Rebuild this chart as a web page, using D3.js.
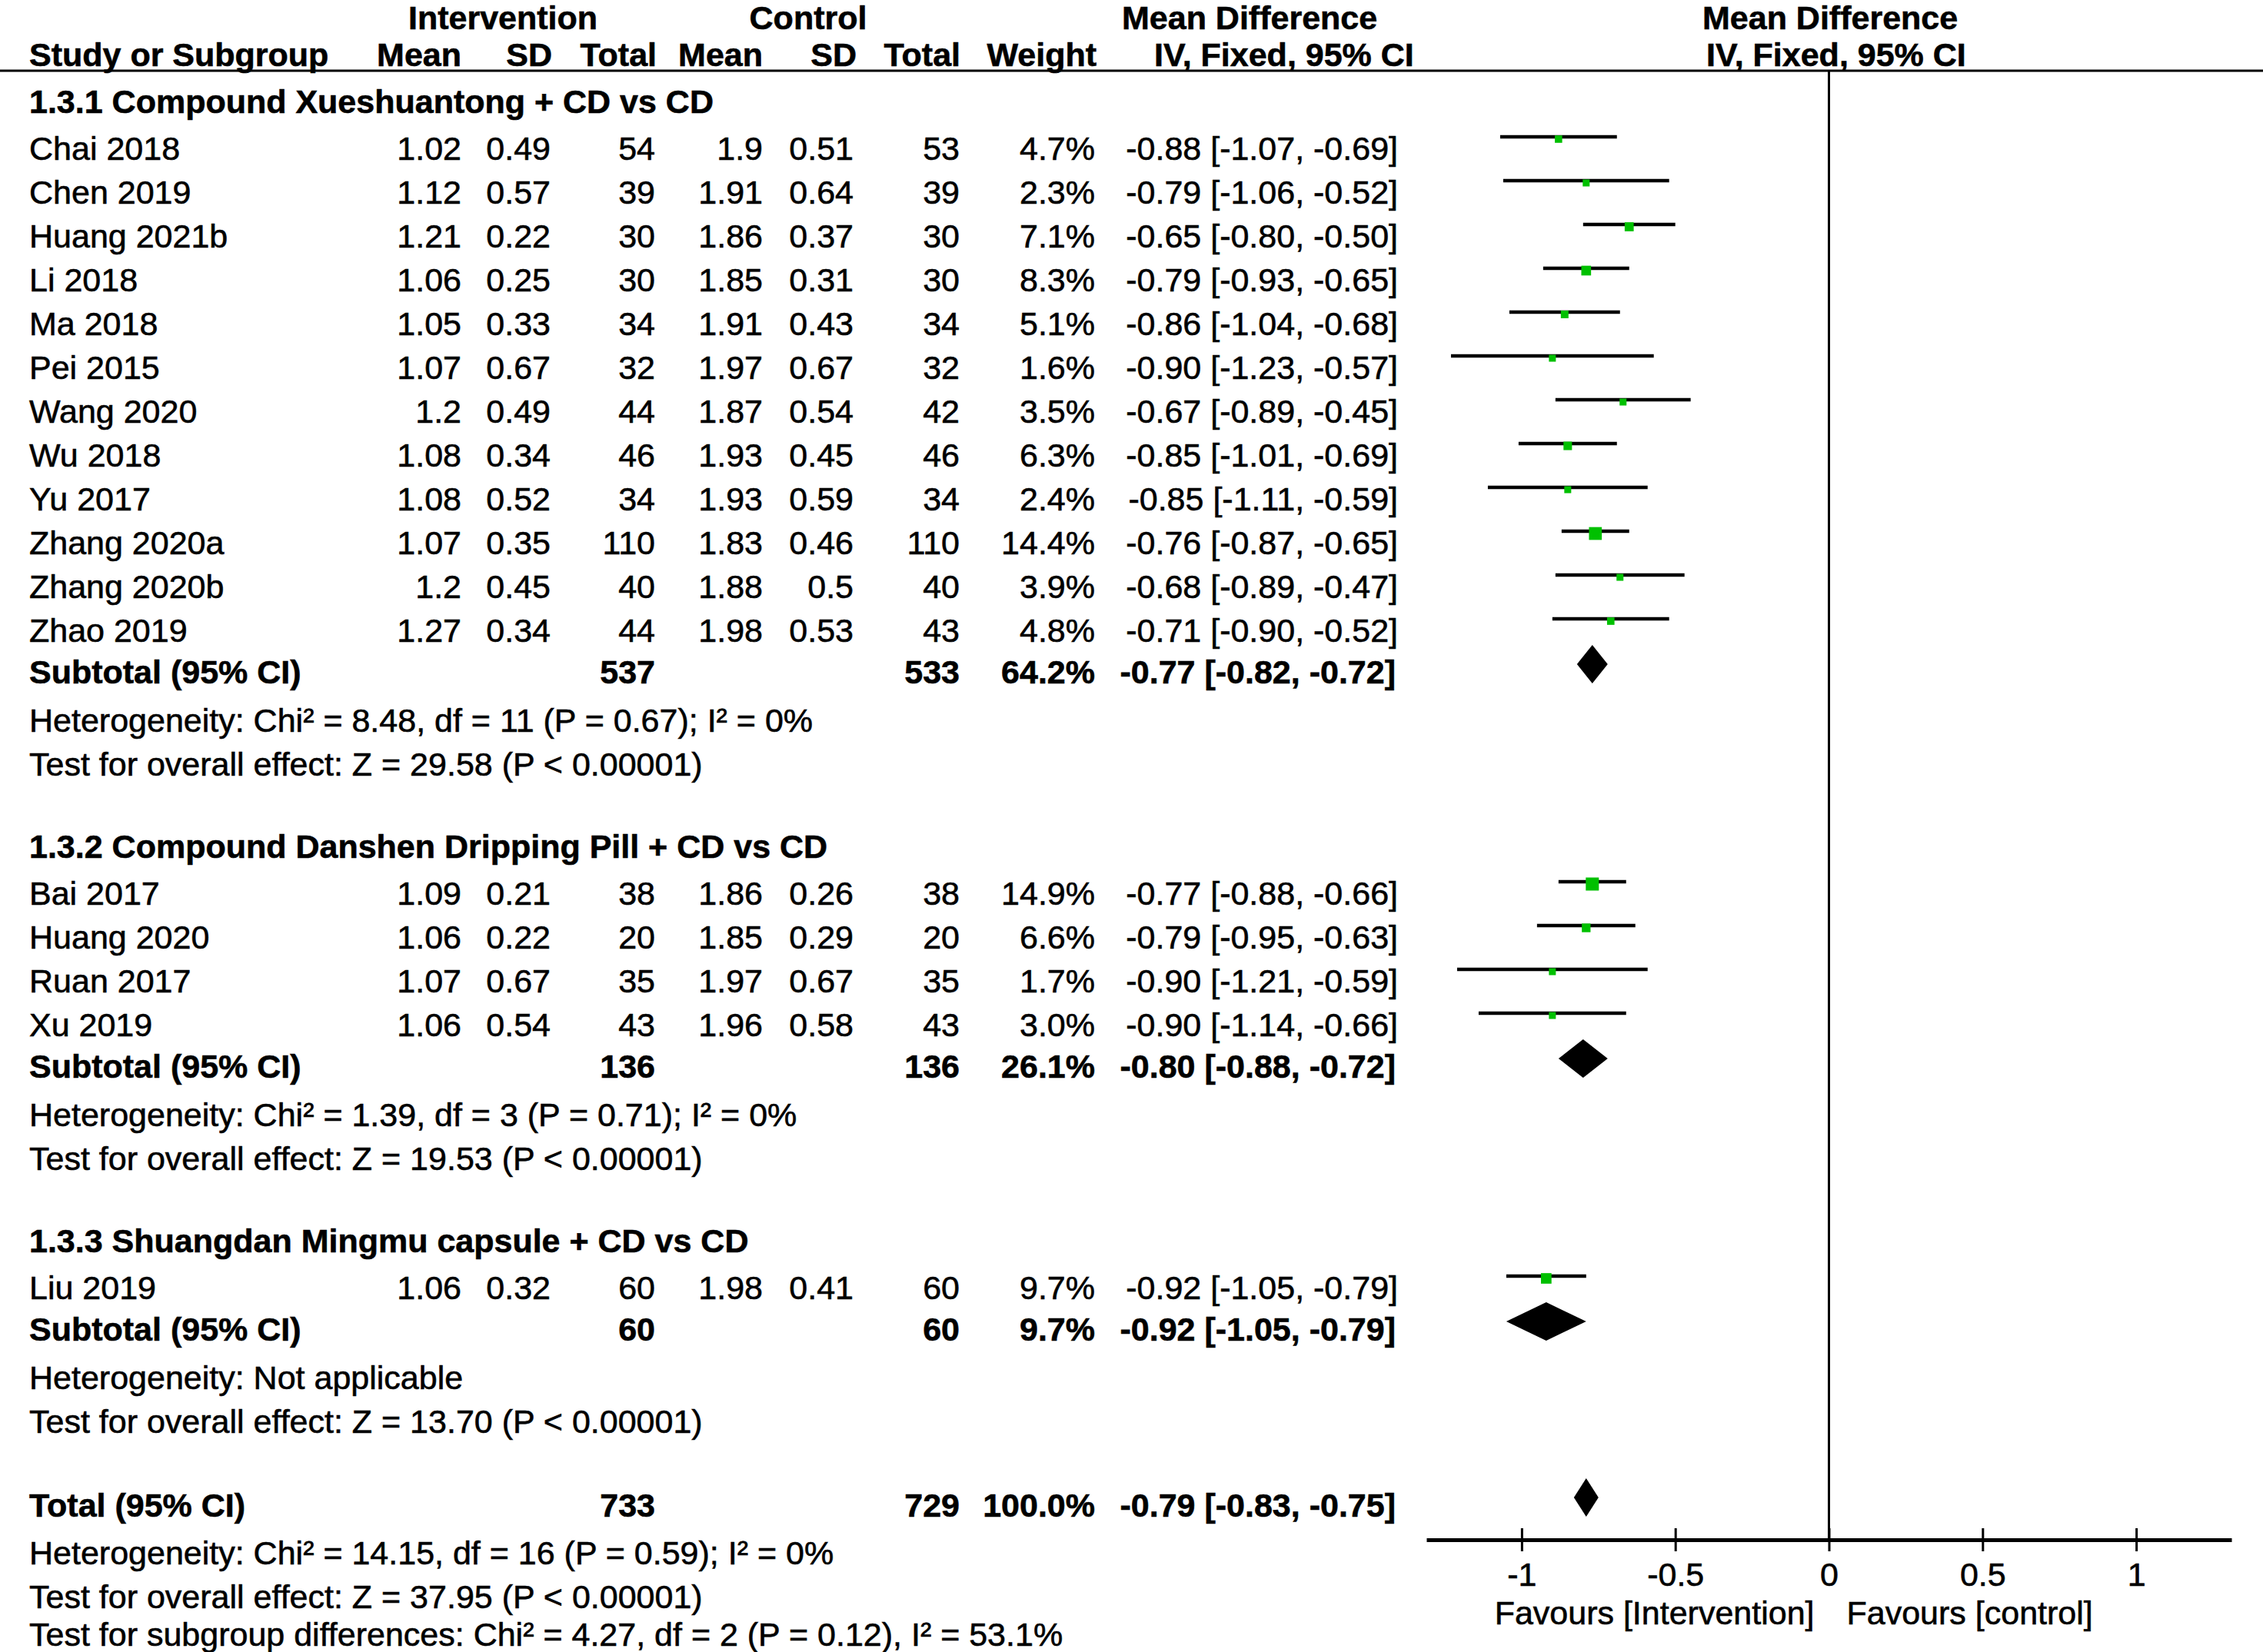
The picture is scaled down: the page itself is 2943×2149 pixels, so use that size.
<!DOCTYPE html>
<html lang="en">
	<head>
		<meta charset="utf-8">
		<title>Forest plot</title>
		<script type="text/javascript" src="https://cdn.jsdelivr.net/npm/d3@7"></script>
    <style>
      body{ margin: 0; background: white; }
      svg text{
        font-family: "Liberation Sans", Arial, sans-serif;
        font-size: 43px;
        fill: black;
        stroke: black;
        stroke-width: 0.6px;
      }
      .bold{ font-weight: bold; }
      g.ci line{ stroke: black; stroke-width: 4.5; }
      g.ci rect{ fill: #00c000; }
      g.diamonds path{ fill: black; }
    </style>
	</head>
	<body>
    <script type="text/javascript">

      // study level data
      const studies = ["Chai 2018", "Chen 2019", "Huang 2021b", "Li 2018", "Ma 2018", "Pei 2015",
        "Wang 2020", "Wu 2018", "Yu 2017", "Zhang 2020a", "Zhang 2020b", "Zhao 2019",
        "Bai 2017", "Huang 2020", "Ruan 2017", "Xu 2019", "Liu 2019"];
      const studyGroup = [0,0,0,0,0,0,0,0,0,0,0,0, 1,1,1,1, 2];
      const intMean = [1.02, 1.12, 1.21, 1.06, 1.05, 1.07, 1.2, 1.08, 1.08, 1.07, 1.2, 1.27, 1.09, 1.06, 1.07, 1.06, 1.06];
      const intSD = [0.49, 0.57, 0.22, 0.25, 0.33, 0.67, 0.49, 0.34, 0.52, 0.35, 0.45, 0.34, 0.21, 0.22, 0.67, 0.54, 0.32];
      const intN = [54, 39, 30, 30, 34, 32, 44, 46, 34, 110, 40, 44, 38, 20, 35, 43, 60];
      const ctrlMean = [1.9, 1.91, 1.86, 1.85, 1.91, 1.97, 1.87, 1.93, 1.93, 1.83, 1.88, 1.98, 1.86, 1.85, 1.97, 1.96, 1.98];
      const ctrlSD = [0.51, 0.64, 0.37, 0.31, 0.43, 0.67, 0.54, 0.45, 0.59, 0.46, 0.5, 0.53, 0.26, 0.29, 0.67, 0.58, 0.41];
      const ctrlN = [53, 39, 30, 30, 34, 32, 42, 46, 34, 110, 40, 43, 38, 20, 35, 43, 60];
      const weight = [4.7, 2.3, 7.1, 8.3, 5.1, 1.6, 3.5, 6.3, 2.4, 14.4, 3.9, 4.8, 14.9, 6.6, 1.7, 3.0, 9.7];
      const md = [-0.88, -0.79, -0.65, -0.79, -0.86, -0.90, -0.67, -0.85, -0.85, -0.76, -0.68, -0.71, -0.77, -0.79, -0.90, -0.90, -0.92];
      const ciLow = [-1.07, -1.06, -0.80, -0.93, -1.04, -1.23, -0.89, -1.01, -1.11, -0.87, -0.89, -0.90, -0.88, -0.95, -1.21, -1.14, -1.05];
      const ciHigh = [-0.69, -0.52, -0.50, -0.65, -0.68, -0.57, -0.45, -0.69, -0.59, -0.65, -0.47, -0.52, -0.66, -0.63, -0.59, -0.66, -0.79];

      // subgroup data
      const groupTitles = ["1.3.1 Compound Xueshuantong + CD vs CD",
        "1.3.2 Compound Danshen Dripping Pill + CD vs CD",
        "1.3.3 Shuangdan Mingmu capsule + CD vs CD"];
      const groupIntN = [537, 136, 60];
      const groupCtrlN = [533, 136, 60];
      const groupWeight = [64.2, 26.1, 9.7];
      const groupMd = [-0.77, -0.80, -0.92];
      const groupLow = [-0.82, -0.88, -1.05];
      const groupHigh = [-0.72, -0.72, -0.79];
      const groupHet = ["Heterogeneity: Chi² = 8.48, df = 11 (P = 0.67); I² = 0%",
        "Heterogeneity: Chi² = 1.39, df = 3 (P = 0.71); I² = 0%",
        "Heterogeneity: Not applicable"];
      const groupTest = ["Test for overall effect: Z = 29.58 (P < 0.00001)",
        "Test for overall effect: Z = 19.53 (P < 0.00001)",
        "Test for overall effect: Z = 13.70 (P < 0.00001)"];

      // overall
      const totalIntN = 733, totalCtrlN = 729, totalWeight = 100.0;
      const totalMd = -0.79, totalLow = -0.83, totalHigh = -0.75;
      const totalNotes = ["Heterogeneity: Chi² = 14.15, df = 16 (P = 0.59); I² = 0%",
        "Test for overall effect: Z = 37.95 (P < 0.00001)",
        "Test for subgroup differences: Chi² = 4.27, df = 2 (P = 0.12), I² = 53.1%"];

      const axisTicks = [-1, -0.5, 0, 0.5, 1];
      const favours = ["Favours [Intervention]", "Favours [control]"];

      const width = 2943, height = 2149;

      const svg = d3.select("body")
        .append("svg")
        .attr("width", width)
        .attr("height", height);

      // x for the forest part, y gives the text baseline of a row index
      const x = d3.scaleLinear().domain([-1.31, 1.31]).range([1855, 2902]);
      const y = d3.scaleLinear().domain([0, 1]).range([208, 265]);
      const axisY = 2003;

      // column right edges
      const col = {name: 38, intMean: 600, intSD: 716, intN: 852, ctrlMean: 992,
        ctrlSD: 1110, ctrlN: 1248, weight: 1424, ci: 1818};

      const f2 = (v) => v.toFixed(2);
      const ciText = (m, l, h) => f2(m) + " [" + f2(l) + ", " + f2(h) + "]";

      // build row list
      const rows = [];
      let r = -1;
      groupTitles.forEach((title, g) => {
        rows.push({type: "heading", idx: r, label: title});
        r++;
        studies.forEach((s, i) => {
          if(studyGroup[i] !== g) return;
          rows.push({type: "study", idx: r, i: i});
          r++;
        });
        rows.push({type: "subtotal", idx: r, g: g});
        r++;
        rows.push({type: "note", idx: r, label: groupHet[g]});
        rows.push({type: "note", idx: r + 1, label: groupTest[g]});
        r += 3;
      });
      rows.push({type: "total", idx: r});
      totalNotes.forEach((n, k) => rows.push({type: "note", idx: r + 1 + k, label: n, last: k === 2}));

      const offset = {heading: -4, study: 0, subtotal: -3, total: -2, note: 3};
      // last line sits on the bottom edge, pull it up a little so it stays readable
      const base = (d) => y(d.idx) + offset[d.type] - (d.last ? 8 : 0);

      // header
      const header = svg.append("g").attr("class", "header");
      const hTop = [["Intervention", 654, "middle"], ["Control", 1051, "middle"],
        ["Mean Difference", 1459, "start"], ["Mean Difference", 2214, "start"]];
      header.selectAll("text.top").data(hTop).join("text")
        .attr("class", "top bold")
        .attr("x", (d) => d[1]).attr("y", 38)
        .attr("text-anchor", (d) => d[2])
        .text((d) => d[0]);
      const hSub = [["Study or Subgroup", col.name, "start"], ["Mean", col.intMean, "end"],
        ["SD", col.intSD + 2, "end"], ["Total", col.intN + 2, "end"], ["Mean", col.ctrlMean, "end"],
        ["SD", col.ctrlSD + 4, "end"], ["Total", col.ctrlN + 1, "end"], ["Weight", col.weight + 2, "end"],
        ["IV, Fixed, 95% CI", 1501, "start"], ["IV, Fixed, 95% CI", 2219, "start"]];
      header.selectAll("text.sub").data(hSub).join("text")
        .attr("class", "sub bold")
        .attr("x", (d) => d[1]).attr("y", 86)
        .attr("text-anchor", (d) => d[2])
        .text((d) => d[0]);
      header.append("line")
        .attr("x1", 0).attr("x2", width)
        .attr("y1", 92).attr("y2", 92)
        .attr("stroke", "black").attr("stroke-width", 3);

      // table cells
      const cells = [];
      rows.forEach((d) => {
        const yy = base(d);
        if(d.type === "heading" || d.type === "note"){
          cells.push({t: d.label, x: col.name, y: yy, a: "start", b: d.type === "heading"});
        } else if(d.type === "study"){
          const i = d.i;
          cells.push({t: studies[i], x: col.name, y: yy, a: "start"});
          cells.push({t: String(intMean[i]), x: col.intMean, y: yy, a: "end"});
          cells.push({t: String(intSD[i]), x: col.intSD, y: yy, a: "end"});
          cells.push({t: String(intN[i]), x: col.intN, y: yy, a: "end"});
          cells.push({t: String(ctrlMean[i]), x: col.ctrlMean, y: yy, a: "end"});
          cells.push({t: String(ctrlSD[i]), x: col.ctrlSD, y: yy, a: "end"});
          cells.push({t: String(ctrlN[i]), x: col.ctrlN, y: yy, a: "end"});
          cells.push({t: weight[i].toFixed(1) + "%", x: col.weight, y: yy, a: "end"});
          cells.push({t: ciText(md[i], ciLow[i], ciHigh[i]), x: col.ci, y: yy, a: "end"});
        } else {
          const g = d.g;
          const isTot = d.type === "total";
          cells.push({t: isTot ? "Total (95% CI)" : "Subtotal (95% CI)", x: col.name, y: yy, a: "start", b: true});
          cells.push({t: String(isTot ? totalIntN : groupIntN[g]), x: col.intN, y: yy, a: "end", b: true});
          cells.push({t: String(isTot ? totalCtrlN : groupCtrlN[g]), x: col.ctrlN, y: yy, a: "end", b: true});
          cells.push({t: (isTot ? totalWeight : groupWeight[g]).toFixed(1) + "%", x: col.weight, y: yy, a: "end", b: true});
          cells.push({t: isTot ? ciText(totalMd, totalLow, totalHigh) : ciText(groupMd[g], groupLow[g], groupHigh[g]),
            x: col.ci - 3, y: yy, a: "end", b: true});
        }
      });

      svg.append("g")
        .attr("class", "table")
        .selectAll("text")
        .data(cells)
        .join("text")
        .attr("class", (d) => d.b ? "bold" : null)
        .attr("x", (d) => d.x)
        .attr("y", (d) => d.y)
        .attr("text-anchor", (d) => d.a)
        .text((d) => d.t);

      // zero line
      svg.append("line")
        .attr("x1", x(0)).attr("x2", x(0))
        .attr("y1", 92).attr("y2", axisY)
        .attr("stroke", "black").attr("stroke-width", 3);

      // confidence intervals + weight squares
      const studyRows = rows.filter((d) => d.type === "study");
      const ci = svg.append("g").attr("class", "ci");
      ci.selectAll("line")
        .data(studyRows)
        .join("line")
        .attr("x1", (d) => x(ciLow[d.i]))
        .attr("x2", (d) => x(ciHigh[d.i]))
        .attr("y1", (d) => base(d) - 30)
        .attr("y2", (d) => base(d) - 30);
      const sq = (w) => Math.max(9, 4.4 * Math.sqrt(w));
      ci.selectAll("rect")
        .data(studyRows)
        .join("rect")
        .attr("x", (d) => x(md[d.i]) - sq(weight[d.i]) / 2)
        .attr("y", (d) => base(d) - 30 + 3 - sq(weight[d.i]) / 2)
        .attr("width", (d) => sq(weight[d.i]))
        .attr("height", (d) => sq(weight[d.i]));

      // diamonds for subtotals and total
      const diamondRows = rows.filter((d) => d.type === "subtotal" || d.type === "total");
      svg.append("g")
        .attr("class", "diamonds")
        .selectAll("path")
        .data(diamondRows)
        .join("path")
        .attr("d", (d) => {
          const m = d.type === "total" ? totalMd : groupMd[d.g];
          const l = d.type === "total" ? totalLow : groupLow[d.g];
          const h = d.type === "total" ? totalHigh : groupHigh[d.g];
          const cy = base(d) - 25;
          return "M" + x(l) + "," + cy + "L" + x(m) + "," + (cy - 25) +
            "L" + x(h) + "," + cy + "L" + x(m) + "," + (cy + 25) + "Z";
        });

      // axis
      const axis = svg.append("g")
        .attr("transform", "translate(0," + axisY + ")")
        .call(d3.axisBottom(x)
          .tickValues(axisTicks)
          .tickFormat((d) => String(d))
          .tickSizeOuter(0)
          .tickSizeInner(15));
      axis.select(".domain").attr("stroke-width", 5);
      axis.selectAll(".tick line").attr("y1", -15).attr("stroke-width", 3);
      axis.selectAll(".tick text")
        .attr("y", 60).attr("dy", null)
        .style("font-size", "43px")
        .style("font-family", "\"Liberation Sans\", Arial, sans-serif");
      axis.attr("font-size", null).attr("font-family", null);

      svg.append("g")
        .selectAll("text")
        .data(favours)
        .join("text")
        .attr("x", (d, i) => i === 0 ? x(0) - 19 : x(0) + 23)
        .attr("y", 2113)
        .attr("text-anchor", (d, i) => i === 0 ? "end" : "start")
        .text((d) => d);
    </script>
  </body>
</html>
